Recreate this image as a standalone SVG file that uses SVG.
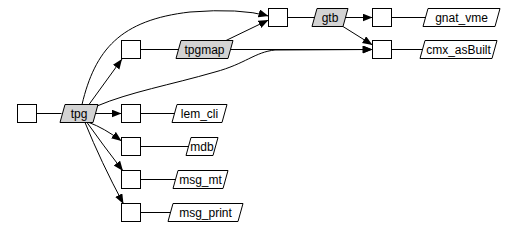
<svg xmlns="http://www.w3.org/2000/svg" width="521" height="229" viewBox="0 0 521 229">
<style>
.box{fill:#fff;stroke:#000;stroke-width:1}
.lbl{fill:#fff;stroke:#000;stroke-width:1}
.hl{fill:#d3d3d3;stroke:#000;stroke-width:1}
text{font-family:"Liberation Sans",Arial,sans-serif;font-size:12px;text-anchor:middle;fill:#000}
.e{fill:none;stroke:#000;stroke-width:1}
.a{marker-end:url(#arr)}
</style>
<defs>
<marker id="arr" markerUnits="userSpaceOnUse" markerWidth="11" markerHeight="9" refX="10" refY="4" orient="auto">
<path d="M0,0 L10,4 L0,8 z" fill="#000"/>
</marker>
</defs>
<rect width="521" height="229" fill="#fff"/>
<g id="connectors">
<path class="e" d="M36.5,113.5 L61.5,113.5"/>
<path class="e a" d="M96,113.5 L121.5,113.5"/>
<path class="e a" d="M89,122.5 Q104,128 121.5,141"/>
<path class="e a" d="M87,122.5 Q103,145 123,171"/>
<path class="e a" d="M85,122.5 Q101,162 123.5,204"/>
<path class="e a" d="M89,104.5 L122,59"/>
<path class="e a" d="M82,104.5 C95,50 120,20 190,12 Q240,8 268.5,16"/>
<path class="e a" d="M97,106 C130,92 170,85 215,72 C245,64 255,52 275,50 L372.5,49.5"/>
<path class="e a" d="M226,40.5 L268.5,20"/>
<path class="e a" d="M231,49.5 L372.5,49.5"/>
<path class="e" d="M140.5,49.5 L178,49.5"/>
<path class="e" d="M287.5,17.5 L314,17.5"/>
<path class="e a" d="M346,17.5 L372.5,17.5"/>
<path class="e a" d="M343,26.5 L372.5,45"/>
<path class="e" d="M391.5,17.5 L425,17.5"/>
<path class="e" d="M391.5,49.5 L422,49.5"/>
<path class="e" d="M140.5,113.5 L174.5,113.5"/>
<path class="e" d="M140.5,146.5 L188.5,146.5"/>
<path class="e" d="M140.5,179.5 L175.5,179.5"/>
<path class="e" d="M140.5,212.5 L170.5,212.5"/>
</g>
<g id="n0"><rect class="box" x="17.5" y="104.5" width="19" height="18"/></g>
<g id="tpg"><polygon class="hl" points="65,104.5 98,104.5 93,122.5 60,122.5"/><text x="79" y="117.5">tpg</text></g>
<g id="b_tpgmap"><rect class="box" x="121.5" y="40.5" width="19" height="18"/></g>
<g id="tpgmap"><polygon class="hl" points="181,40.5 233,40.5 228,58.5 176,58.5"/><text x="204.5" y="53.5">tpgmap</text></g>
<g id="b_lem_cli"><rect class="box" x="121.5" y="104.5" width="19" height="18"/></g>
<g id="lem_cli"><polygon class="lbl" points="177,104.5 227,104.5 222,122.5 172,122.5"/><text x="199.5" y="117.5">lem_cli</text></g>
<g id="b_mdb"><rect class="box" x="121.5" y="137.5" width="19" height="18"/></g>
<g id="mdb"><polygon class="lbl" points="191,137.5 218,137.5 213,155.5 186,155.5"/><text x="202" y="150.5">mdb</text></g>
<g id="b_msg_mt"><rect class="box" x="121.5" y="170.5" width="19" height="18"/></g>
<g id="msg_mt"><polygon class="lbl" points="178,170.5 228,170.5 223,188.5 173,188.5"/><text x="200.5" y="183.5">msg_mt</text></g>
<g id="b_msg_print"><rect class="box" x="121.5" y="203.5" width="19" height="18"/></g>
<g id="msg_print"><polygon class="lbl" points="173,203.5 243,203.5 238,221.5 168,221.5"/><text x="205.5" y="216.5">msg_print</text></g>
<g id="b_gtb"><rect class="box" x="268.5" y="8.5" width="19" height="18"/></g>
<g id="gtb"><polygon class="hl" points="317,8.5 348,8.5 343,26.5 312,26.5"/><text x="330" y="21.5">gtb</text></g>
<g id="b_gnat_vme"><rect class="box" x="372.5" y="8.5" width="19" height="18"/></g>
<g id="gnat_vme"><polygon class="lbl" points="428,8.5 500,8.5 495,26.5 423,26.5"/><text x="461.5" y="21.5">gnat_vme</text></g>
<g id="b_cmx"><rect class="box" x="372.5" y="40.5" width="19" height="18"/></g>
<g id="cmx_asBuilt"><polygon class="lbl" points="425,40.5 497,40.5 492,58.5 420,58.5"/><text x="458.5" y="53.5">cmx_asBuilt</text></g>
</svg>
